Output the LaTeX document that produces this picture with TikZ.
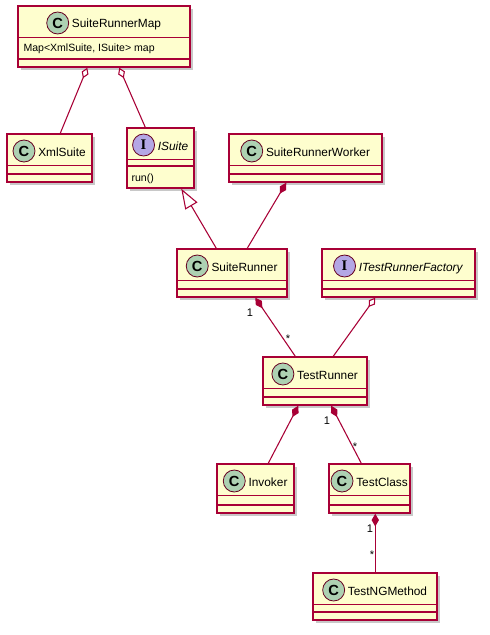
\documentclass[tikz,border=0pt]{standalone}
\usepackage{fontspec}
\setmainfont{Liberation Sans}
\newfontfamily\kreisserif{Liberation Serif}
\usetikzlibrary{arrows.meta, calc, fit, shadows}
\definecolor{umlrand}{HTML}{A80036}
\definecolor{umlfuell}{HTML}{FEFECE}
\definecolor{kreisklasse}{HTML}{ADD1B2}
\definecolor{kreisschnitt}{HTML}{B4A7E5}

\tikzset{
  klasse/.style={draw=umlrand, fill=umlfuell, line width=1.1pt, inner sep=0pt,
    drop shadow={shadow xshift=2.2pt, shadow yshift=-2.2pt, opacity=0.3, fill=black!70}},
  trennlinie/.style={draw=umlrand, line width=1.1pt},
  kreis/.style={circle, draw=umlrand!60!black, line width=0.6pt, minimum size=16.5pt,
    inner sep=0pt, font=\bfseries\fontsize{11}{11}\selectfont},
  titel/.style={anchor=base, inner sep=0pt, font=\fontsize{8.9}{10}\selectfont},
  feld/.style={anchor=base west, inner sep=0pt, font=\fontsize{7.9}{9}\selectfont},
  mult/.style={inner sep=0pt, font=\fontsize{8.3}{9}\selectfont},
  verbindung/.style={draw=umlrand, line width=0.8pt},
  komposition/.style={arrows={Diamond[length=9.5pt, width=5.5pt, fill=umlrand]-}},
  aggregation/.style={arrows={Diamond[open, length=8.5pt, width=5.5pt, fill=white]-}},
  vererbung/.style={arrows={-Triangle[open, length=15pt, width=10.5pt, fill=white]}}
}

% #1 Name, #2 links, #3 oben, #4 rechts, #5 unten, #6 zweite Linie,
% #7 Kreisfarbe, #8 Buchstabe, #9 Titel
\newcommand{\umlklasse}[9]{%
  \node[klasse, fit={(#2,#3) (#4,#5)}] (#1) {};
  \draw[trennlinie] ($(#1.north west)+(0,32)$) -- ($(#1.north east)+(0,32)$);
  \draw[trennlinie] (#1.west |- 0,#6) -- (#1.east |- 0,#6);
  \node[titel] (#1-titel) at ({(#2+#4)/2}, #3+22) {\hspace*{18.75pt}#9};
  \node[kreis, fill=#7] (#1-kreis) at ($(#1-titel.base west)+(11,-5)$) {#8};
}

\begin{document}
\begin{tikzpicture}[x=0.75pt, y=-0.75pt]
  \useasboundingbox[fill=white] (0,0) rectangle (489,635);

  % Klassen
  \umlklasse{map}{18}{6}{190}{67}{59}{kreisklasse}{C}{SuiteRunnerMap}
  \node[feld] (map-feld) at ($(map.north west)+(6,46)$) {Map<XmlSuite, ISuite> map};

  \umlklasse{xml}{7}{134}{92}{182}{174}{kreisklasse}{C}{XmlSuite}
  \umlklasse{isuite}{127}{128}{194}{188}{166}{kreisschnitt}{{\kreisserif\bfseries I}}{\textit{ISuite}}
  \node[feld] (isuite-feld) at ($(isuite.north west)+(5,54)$) {run()};
  \umlklasse{worker}{229}{134}{382}{182}{174}{kreisklasse}{C}{SuiteRunnerWorker}

  \umlklasse{suite}{177}{249}{287}{297}{289}{kreisklasse}{C}{SuiteRunner}
  \umlklasse{factory}{322}{249}{475}{297}{289}{kreisschnitt}{{\kreisserif\bfseries I}}{\textit{ITestRunnerFactory}}

  \umlklasse{runner}{263}{357}{367}{405}{397}{kreisklasse}{C}{TestRunner}
  \umlklasse{invoker}{217}{464}{294}{513}{505}{kreisklasse}{C}{Invoker}
  \umlklasse{tclass}{329}{464}{410}{513}{505}{kreisklasse}{C}{TestClass}
  \umlklasse{method}{313}{573}{437}{620}{612}{kreisklasse}{C}{TestNGMethod}

  % Beziehungen
  \draw[verbindung, aggregation] ($(map.south west)+(70,0)$) -- ($(xml.north west)+(54,0)$);
  \draw[verbindung, aggregation] ($(map.south west)+(102,0)$) -- ($(isuite.north west)+(19,0)$);
  \draw[verbindung, vererbung] ($(suite.north west)+(40,0)$) -- ($(isuite.south west)+(55,0)$);
  \draw[verbindung, komposition] ($(worker.south west)+(58,0)$) -- ($(suite.north west)+(71,0)$);
  \draw[verbindung, komposition] ($(suite.south west)+(79,0)$) -- ($(runner.north west)+(33,0)$);
  \draw[verbindung, aggregation] ($(factory.south west)+(54,0)$) -- ($(runner.north west)+(71,0)$);
  \draw[verbindung, komposition] ($(runner.south west)+(36,0)$) -- ($(invoker.north west)+(52,0)$);
  \draw[verbindung, komposition] ($(runner.south west)+(69,0)$) -- ($(tclass.north west)+(33,0)$);
  \draw[verbindung, komposition] ($(tclass.south west)+(47,0)$) -- ($(method.north west)+(63,0)$);

  % Multiplizitaeten
  \node[mult] (m1) at (250,313) {1};
  \node[mult] (m2) at (288,339) {*};
  \node[mult] (m3) at (327,421) {1};
  \node[mult] (m4) at (355,447) {*};
  \node[mult] (m5) at (370,529) {1};
  \node[mult] (m6) at (372,555) {*};
\end{tikzpicture}
\end{document}
